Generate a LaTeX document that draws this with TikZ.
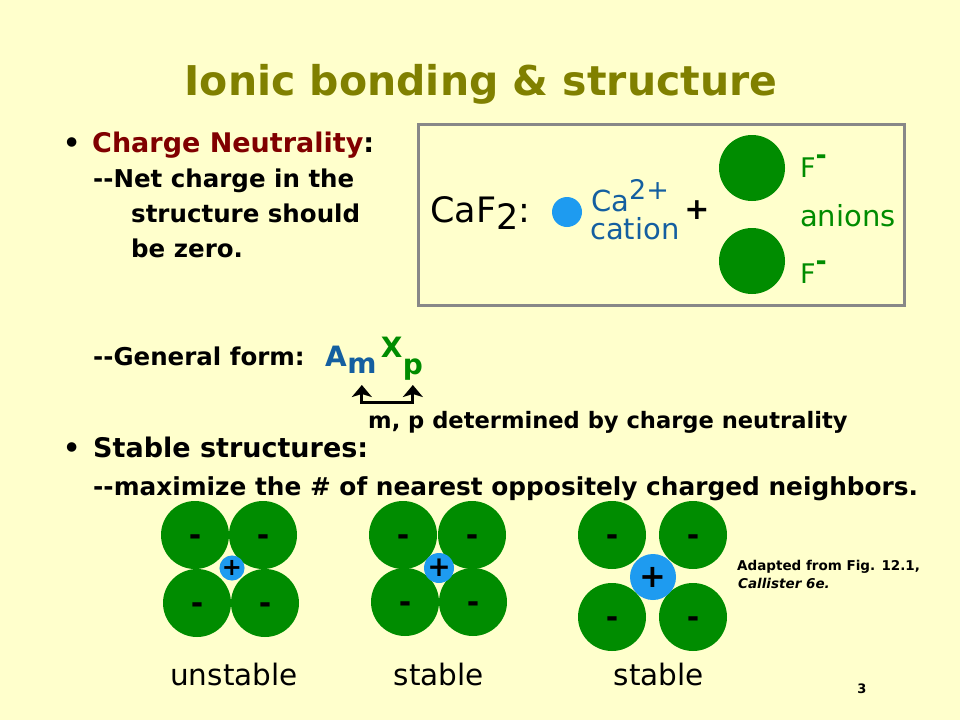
\documentclass[tikz,border=0pt]{standalone}
\usepackage{fontspec}
\setmainfont{DejaVu Sans}
\usetikzlibrary{arrows.meta,positioning}

\definecolor{slidebg}{RGB}{255,255,204}
\definecolor{titleolive}{RGB}{128,128,0}
\definecolor{headred}{RGB}{128,0,0}
\definecolor{aniongreen}{RGB}{0,140,0}
\definecolor{cationblue}{RGB}{30,155,240}
\definecolor{textblue}{RGB}{20,95,160}
\definecolor{boxgray}{RGB}{136,136,136}
\newcommand{\fsz}[1]{\fontsize{#1}{#1}\selectfont}

\tikzset{
  txt/.style={anchor=base west, inner sep=0pt},
  head/.style={txt, font=\bfseries\fsz{27}},
  sub/.style={txt, font=\bfseries\fsz{24.5}},
  formula/.style={txt, font=\bfseries\fsz{28}},
  anion/.style={circle, fill=aniongreen, minimum size=68pt, inner sep=0pt, text height=20pt, text depth=0pt, font=\bfseries\fsz{30}},
  cation/.style={circle, fill=cationblue, inner sep=0pt, font=\bfseries\fsz{28}},
  caption/.style={anchor=base, inner sep=0pt, font=\fsz{29.5}}
}

\begin{document}
\begin{tikzpicture}[x=1pt,y=-1pt]
    % slide background
    \fill[slidebg] (0,0) rectangle (960,720);

    \node[anchor=base, inner sep=0pt, text=titleolive, font=\bfseries\fsz{41}] (title) at (481,95) {Ionic bonding \& structure};

    % charge neutrality
    \node[head] (bullet1) at (63,152) {•};
    \node[head] (neutral) at (92,152) {\textcolor{headred}{Charge Neutrality}:};
    \node[sub] (net1) at (93,187) {{-}{-}Net charge in the};
    \node[sub] (net2) at (131,222) {structure should};
    \node[sub] (net3) at (131,257) {be zero.};

    % CaF2 example
    \draw[boxgray, line width=3pt] (418,124) rectangle (904,305);
    \node[txt, font=\fsz{35}] (caf) at (430,222) {CaF\raisebox{-0.22em}{2}:};
    \node[cation, minimum size=30pt] (ca) at (567,212) {};
    \node[txt, text=textblue, font=\fsz{29}] (caname) at (591,211) {Ca\raisebox{0.4em}{\fsz{27}2+}};
    \node[txt, text=textblue, font=\fsz{29}] (cation) at (590,239) {cation};
    \node[font=\bfseries\fsz{30}] (plus) at (697,210) {+};
    \node[anion, minimum size=66pt] (f1) at (752,168) {};
    \node[anion, minimum size=66pt] (f2) at (752,261) {};
    \node[txt, text=aniongreen, font=\fsz{27}] (f1lab) at (800,177) {F\raisebox{0.45em}{\bfseries-}};
    \node[txt, text=aniongreen, font=\fsz{29}] (anions) at (800,226) {anions};
    \node[txt, text=aniongreen, font=\fsz{27}] (f2lab) at (800,283) {F\raisebox{0.45em}{\bfseries-}};

    % general form
    \node[sub] (general) at (93,365) {{-}{-}General form:};
    \node[formula, text=textblue] (A) at (325,366) {A};
    \node[formula, text=textblue] (msub) at ([yshift=-7pt]A.base east) {m};
    \node[formula, text=aniongreen] (X) at ([xshift=4pt,yshift=16pt]msub.base east) {X};
    \node[formula, text=aniongreen] (psub) at ([yshift=-17pt]X.base east) {p};
    \coordinate (tips) at (0,385);
    \coordinate (bar) at (388,402);
    \draw[line width=3pt, {Stealth[length=12pt,width=20pt,inset=3pt]}-{Stealth[length=12pt,width=20pt,inset=3pt]}]
        (msub |- tips) |- (bar) -| (psub |- tips);
    \node[txt, font=\bfseries\fsz{22.6}] (mpnote) at (368,428) {m, p determined by charge neutrality};

    % stable structures
    \node[head] (bullet2) at (63,457) {•};
    \node[head] (stable) at (93,457) {Stable structures:};
    \node[sub, font=\bfseries\fsz{24.8}] (maxim) at (93,495) {{-}{-}maximize the \# of nearest oppositely charged neighbors.};

    % anion squares
    \foreach \n/\x/\y in {1/195/535, 2/263/535, 3/197/603, 4/265/603}
        \node[anion] (u\n) at (\x,\y) {-};
    \foreach \n/\x/\y in {1/403/535, 2/472/535, 3/405/602, 4/473/602}
        \node[anion] (s\n) at (\x,\y) {-};
    \foreach \n/\x/\y in {1/612/535, 2/693/535, 3/612/617, 4/693/617}
        \node[anion] (t\n) at (\x,\y) {-};

    % cations in the holes
    \node[cation, minimum size=16pt, font=\bfseries\fsz{24}] (ucat) at (232,568) {+};
    \node[cation, minimum size=30pt] (scat) at (439,568) {+};
    \node[cation, minimum size=46pt, font=\bfseries\fsz{32}] (tcat) at (653,577) {+};

    \node[caption] (unstable) at (234,685) {unstable};
    \node[caption] (stable1) at (439,685) {stable};
    \node[caption] (stable2) at (659,685) {stable};

    \node[txt, font=\bfseries\fsz{13.5}] (adapted) at (737,570) {Adapted from Fig. 12.1,};
    \node[txt, font=\bfseries\itshape\fsz{13.5}] (callister) at (738,588) {Callister 6e.};
    \node[anchor=base, inner sep=0pt, font=\bfseries\fsz{13}] (pagenum) at (862,693) {3};
\end{tikzpicture}
\end{document}
